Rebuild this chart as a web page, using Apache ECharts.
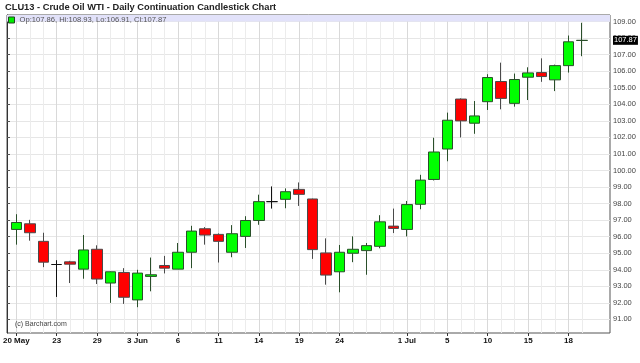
<!DOCTYPE html>
<html><head><meta charset="utf-8">
<script src="https://cdn.jsdelivr.net/npm/echarts@6/dist/echarts.min.js"></script>
<style>html,body{margin:0;padding:0;background:#fff}#c{width:640px;height:363px}</style>
</head><body><div id="c"></div>
<script>
const titleText = 'CLU13 - Crude Oil WTI - Daily Continuation Candlestick Chart';
const seriesName = 'CLU13';
const dates = ['20 May','21 May','22 May','23 May','24 May','28 May','29 May','30 May','31 May',
  '3 Jun','4 Jun','5 Jun','6 Jun','7 Jun','10 Jun','11 Jun','12 Jun','13 Jun','14 Jun',
  '17 Jun','18 Jun','19 Jun','20 Jun','21 Jun','24 Jun','25 Jun','26 Jun','27 Jun','28 Jun',
  '1 Jul','2 Jul','3 Jul','5 Jul','8 Jul','9 Jul','10 Jul','11 Jul','12 Jul','15 Jul','16 Jul','17 Jul','18 Jul','19 Jul'];
const opens  = [96.44,96.78,95.72,94.32,94.48,94.04,95.24,93.20,93.84,92.18,93.60,94.26,94.04,95.06,96.48,96.14,95.06,96.02,96.98,98.12,98.26,98.86,98.28,95.02,93.88,95.00,95.16,95.42,96.64,96.44,97.96,99.46,101.30,104.32,102.86,104.16,105.38,104.06,105.64,105.92,105.48,106.34,107.86];
const highs  = [97.36,97.02,96.24,94.58,94.54,96.10,95.48,93.90,94.10,94.00,94.74,94.84,95.62,96.66,96.58,96.20,96.70,97.24,98.54,99.04,98.92,99.28,98.30,95.90,95.50,96.02,95.62,97.30,97.70,98.16,99.74,101.98,103.50,104.36,104.20,105.82,106.52,105.86,106.24,106.78,106.40,108.16,108.93];
const lows   = [95.52,95.76,94.16,92.36,93.20,93.46,93.14,92.00,91.94,91.74,92.70,93.78,94.04,94.10,95.52,94.44,94.76,95.32,96.72,97.70,97.72,97.86,94.66,93.10,92.64,94.46,93.70,95.30,96.22,96.02,97.66,99.40,100.56,102.00,102.22,103.66,103.70,103.86,104.26,105.36,104.80,105.92,106.91];
const closes = [96.86,96.24,94.46,94.32,94.34,95.20,93.44,93.88,92.34,93.80,93.70,94.10,95.06,96.34,96.10,95.72,96.18,96.98,98.12,98.12,98.72,98.56,95.22,93.68,95.06,95.24,95.46,96.90,96.50,97.94,99.42,101.12,103.04,103.00,103.30,105.62,104.36,105.50,105.90,105.68,106.34,107.78,107.87];
const tickDates = ['20 May','23 May','29 May','3 Jun','6 Jun','11 Jun','14 Jun','19 Jun','24 Jun','1 Jul','5 Jul','10 Jul','15 Jul','18 Jul'];
const monthStartLabels = ['20 May','3 Jun','1 Jul'];
const yTicks = [91,92,93,94,95,96,97,98,99,100,101,102,103,104,105,106,107,108,109];
const yMin = 90.18, yMax = 109.40, bandFrom = 109;

const ohlc = dates.map((d, i) => [opens[i], closes[i], lows[i], highs[i]]);
const last = dates.length - 1;
const tickSet = new Set(tickDates);
const isTick = (i, v) => tickSet.has(v !== undefined ? v : dates[i]);
const f2 = v => v.toFixed(2);

const chart = echarts.init(document.getElementById('c'));
chart.setOption({
  animation: false,
  backgroundColor: '#fff',
  textStyle: { fontFamily: 'Liberation Sans, Arial, sans-serif' },
  title: [
    { text: titleText, left: 5, top: 3, padding: 0,
      textStyle: { fontSize: 9.3, fontWeight: 'bold', color: '#222' } },
    { text: '(c) Barchart.com', left: 15, top: 321, padding: 0,
      textStyle: { fontSize: 7, fontWeight: 'normal', color: '#444' } }
  ],
  legend: {
    left: 8, top: 16, padding: 0, itemWidth: 6, itemHeight: 6, icon: 'rect', itemGap: 3,
    selectedMode: false,
    data: [{ name: seriesName, itemStyle: { color: '#00ee00', borderColor: '#224422', borderWidth: 1 } }],
    formatter: () => 'Op:' + f2(opens[last]) + ', Hi:' + f2(highs[last]) + ', Lo:' + f2(lows[last]) + ', Cl:' + f2(closes[last]),
    textStyle: { fontSize: 7.6, color: '#555', padding: [0, 0, 0, 0] }
  },
  grid: [
    { left: 14, right: 58, top: 15, bottom: 30 },
    { left: 7, right: 30, top: 15, bottom: 30, show: true, borderColor: '#555', borderWidth: 1, backgroundColor: 'transparent' }
  ],
  xAxis: [
    { type: 'category', gridIndex: 0, data: dates, boundaryGap: false, position: 'top',
      axisLine: { show: false }, axisTick: { show: false }, axisLabel: { show: false },
      splitLine: { show: true, interval: 0, lineStyle: { color: '#ececec', width: 1 } } },
    { type: 'category', gridIndex: 0, data: dates, boundaryGap: false, position: 'bottom',
      axisLine: { show: false },
      axisTick: { show: true, interval: isTick, length: 3, lineStyle: { color: '#333' } },
      axisLabel: { interval: isTick, margin: 4, fontSize: 8, fontWeight: 'bold', color: '#111',
        formatter: v => monthStartLabels.includes(v) ? v : v.split(' ')[0] },
      splitLine: { show: true, interval: isTick, lineStyle: { color: '#d9d9d9', width: 1 } } },
    { type: 'value', gridIndex: 1, min: 0, max: 1, show: false }
  ],
  yAxis: [
    { type: 'value', gridIndex: 0, min: yMin, max: yMax, show: false, splitLine: { show: false } },
    { type: 'value', gridIndex: 1, min: yMin, max: yMax, position: 'right',
      axisLine: { show: true, lineStyle: { color: '#333' } },
      axisTick: { show: true, length: 3, customValues: yTicks, lineStyle: { color: '#555' } },
      axisLabel: { customValues: yTicks, formatter: v => f2(v), fontSize: 7.5, color: '#444', margin: 3 },
      splitLine: { show: true, lineStyle: { color: '#e6e6e6', width: 1 } } }
  ],
  series: [
    { type: 'line', name: 'band', xAxisIndex: 2, yAxisIndex: 1, data: [], silent: true,
      markArea: { silent: true, itemStyle: { color: '#e2e2fa' },
        data: [[{ yAxis: bandFrom }, { yAxis: yMax }]] },
      markLine: { silent: true, symbol: 'none', animation: false,
        lineStyle: { color: 'transparent', width: 0 },
        data: [{ yAxis: closes[last] }],
        label: { show: true, position: 'end', distance: 3, formatter: () => f2(closes[last]),
          backgroundColor: '#000', color: '#fff', fontSize: 7.5, padding: [1, 1, 0, 1] } } },
    { type: 'candlestick', name: seriesName, xAxisIndex: 1, yAxisIndex: 0, data: ohlc,
      barWidth: 11, clip: false,
      itemStyle: { color: '#00ff00', color0: '#ff0000', borderColor: '#2a4f2a', borderColor0: '#4a4a4a',
        borderColorDoji: '#111', borderWidth: 1 } }
  ]
});
</script></body></html>
